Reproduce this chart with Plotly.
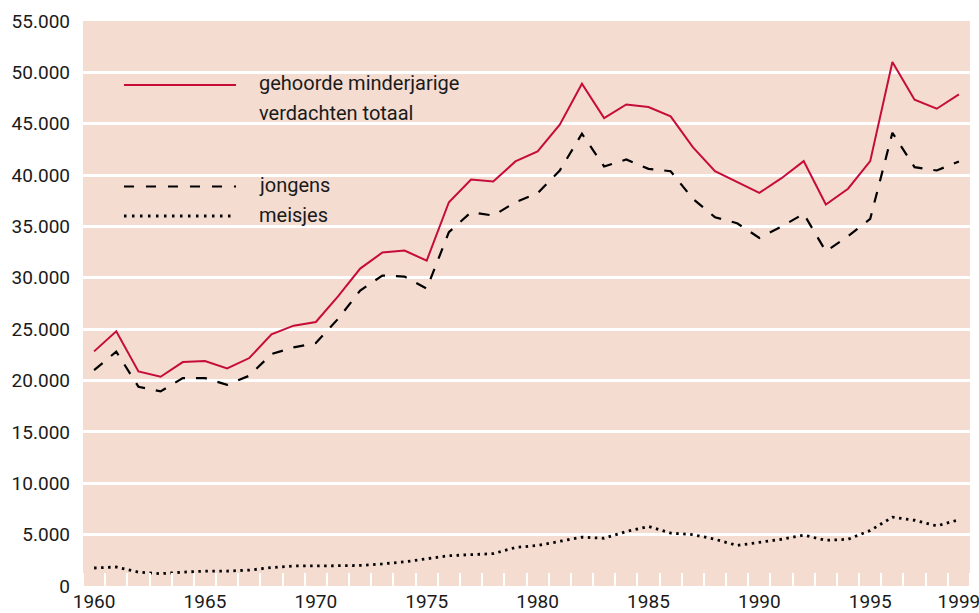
import plotly.graph_objects as go

years = list(range(1960, 2000))

totaal = [22840, 24790, 20890, 20370, 21800, 21900, 21180, 22190, 24500, 25340,
          25700, 28200, 30900, 32460, 32650, 31680, 37360, 39570, 39380, 41330,
          42300, 44900, 48900, 45550, 46880, 46620, 45710, 42720, 40380, 39310,
          38270, 39700, 41360, 37140, 38670, 41360, 51010, 47340, 46460, 47860]

jongens = [21020, 22810, 19400, 18940, 20240, 20240, 19590, 20470, 22580, 23230,
           23650, 26000, 28760, 30220, 30120, 28950, 34440, 36390, 36060, 37360,
           38240, 40450, 44030, 40840, 41520, 40610, 40380, 37690, 35900, 35310,
           33890, 34990, 36230, 32580, 34050, 35740, 44120, 40770, 40450, 41330]

meisjes = [1750, 1850, 1350, 1200, 1350, 1450, 1450, 1550, 1790, 1950,
           1950, 2000, 2000, 2150, 2350, 2650, 2950, 3050, 3150, 3750,
           3950, 4350, 4750, 4650, 5300, 5800, 5150, 5000, 4550, 3950,
           4250, 4550, 4950, 4450, 4550, 5400, 6700, 6400, 5850, 6450]

x_tickvals = [1960, 1965, 1970, 1975, 1980, 1985, 1990, 1995, 1999]
x_ticktext = ["1960", "1965", "1970", "1975", "1980", "1985", "1990", "1995", "1999"]
y_tickvals = list(range(0, 55001, 5000))

legend_labels = ["gehoorde minderjarige", "verdachten totaal", "jongens", "meisjes"]

RED = "#C60C3B"
BG = "#F4DCD1"
TXT = "#1a1a1a"
FONT = "Roboto"
FS = 20

fig = go.Figure()
fig.add_trace(go.Scatter(x=years, y=totaal, mode="lines",
                         line=dict(color=RED, width=2), showlegend=False))
fig.add_trace(go.Scatter(x=years, y=jongens, mode="lines",
                         line=dict(color="black", width=2.2, dash="11px,11px"), showlegend=False))
fig.add_trace(go.Scatter(x=years, y=meisjes, mode="lines",
                         line=dict(color="black", width=2.8, dash="2.5px,4.5px"), showlegend=False))

# manual legend
x0, x1 = 0.0462, 0.1725
fig.add_shape(type="line", xref="paper", yref="paper", x0=x0, x1=x1, y0=0.8867, y1=0.8867,
              line=dict(color=RED, width=2))
fig.add_shape(type="line", xref="paper", yref="paper", x0=x0, x1=x1, y0=0.7071, y1=0.7071,
              line=dict(color="black", width=2.2, dash="10px,12px"))
fig.add_shape(type="line", xref="paper", yref="paper", x0=x0, x1=x1, y0=0.6549, y1=0.6549,
              line=dict(color="black", width=2.8, dash="2.5px,5.5px"))
for txt, yy in zip(legend_labels, [0.8903, 0.8372, 0.7097, 0.6566]):
    fig.add_annotation(text=txt, xref="paper", yref="paper", x=0.1962, y=yy,
                       xanchor="left", yanchor="middle", showarrow=False,
                       font=dict(family=FONT, size=FS, color=TXT))

fig.update_layout(
    width=979, height=613,
    margin=dict(l=83, r=9, t=21, b=27, autoexpand=False),
    paper_bgcolor="white",
    plot_bgcolor=BG,
    separators=",.",
    font=dict(family=FONT, size=19, color=TXT),
    showlegend=False,
)
fig.update_xaxes(range=[1959.5, 1999.5], tickmode="array", tickvals=x_tickvals,
                 ticktext=x_ticktext, ticks="", showgrid=False, zeroline=False,
                 showline=False, ticklabelstandoff=2, automargin=False,
                 ticklabeloverflow="allow",
                 minor=dict(tick0=1960.5, dtick=1, ticks="inside", ticklen=13,
                            tickwidth=2, tickcolor="white", showgrid=False))
fig.update_yaxes(range=[0, 55000], tickmode="array", tickvals=y_tickvals,
                 tickformat=",d", ticks="", showgrid=True, gridcolor="white",
                 gridwidth=2.5, zeroline=False, showline=False, ticklabelstandoff=12,
                 automargin=False, ticklabeloverflow="allow")

fig.write_html("out.html", config={"displayModeBar": False},
               post_script="document.body.style.margin='0';document.body.style.overflow='hidden';")
